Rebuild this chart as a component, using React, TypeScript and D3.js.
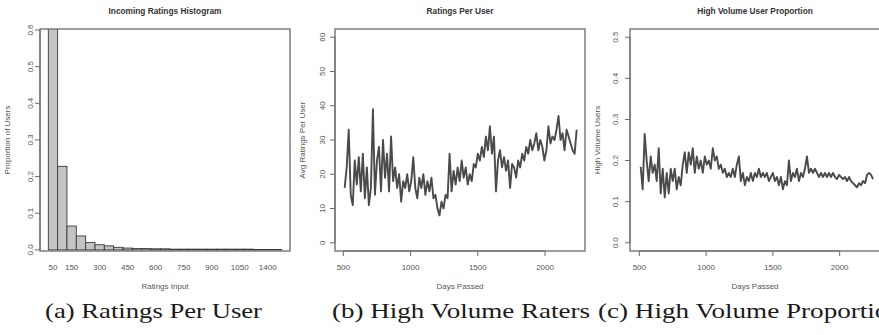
import React from "react";
import * as d3 from "d3";

// ---------- Data ----------
const histCategories = [
  "50", "100", "150", "200", "250", "300", "350", "400", "450", "500", "550", "600",
  "650", "700", "750", "800", "850", "900", "950", "1000", "1050", "1100", "1150", "1400", "1450",
];
const histValues = [
  0.62, 0.228, 0.065, 0.038, 0.02, 0.014, 0.011, 0.007, 0.005, 0.004, 0.004, 0.003,
  0.003, 0.002, 0.002, 0.002, 0.002, 0.002, 0.002, 0.002, 0.002, 0.002, 0.001, 0.001, 0.001,
];
const histShownLabels = ["50", "150", "300", "450", "600", "750", "900", "1050", "1400"];
const histYTicks = [0, 0.1, 0.2, 0.3, 0.4, 0.5, 0.6];

const ratingsDays = [
  510, 525, 540, 555, 570, 585, 600, 615, 630, 645, 660, 675, 690,
  705, 720, 735, 750, 765, 780, 795, 810, 825, 840, 855, 870, 885, 900,
  915, 930, 945, 960, 975, 990, 1005, 1020, 1035, 1050, 1065, 1080, 1095, 1110, 1125, 1140, 1155, 1170, 1185, 1200,
  1215, 1230, 1245, 1260, 1275, 1290, 1305, 1320, 1335, 1350, 1365, 1380, 1395, 1410, 1425, 1440,
  1455, 1470, 1485, 1500, 1515, 1530, 1545, 1560, 1575, 1590, 1605, 1620, 1635, 1650,
  1665, 1680, 1695, 1710, 1725, 1740, 1755, 1770, 1785, 1800,
  1815, 1830, 1845, 1860, 1875, 1890, 1905, 1920, 1935, 1950, 1965, 1980, 1995,
  2010, 2025, 2040, 2055, 2070, 2085, 2100, 2115, 2130, 2145, 2160, 2175, 2190, 2205, 2220, 2235,
];
const ratingsPerUser = [
  16, 22, 33, 14, 11, 24, 17, 25, 15, 26, 13, 22, 11,
  16, 39, 14, 24, 28, 15, 30, 19, 26, 15, 31, 18, 22, 16,
  20, 12, 18, 16, 20, 15, 18, 25, 16, 13, 19, 16, 20, 14, 18, 15, 19, 13, 14, 10,
  8, 12, 10, 14, 13, 26, 15, 21, 17, 22, 18, 24, 19, 22, 17, 20,
  18, 23, 22, 26, 24, 28, 25, 31, 27, 34, 26, 31, 15, 24,
  27, 22, 25, 21, 24, 16, 23, 22, 19, 24,
  22, 26, 24, 28, 26, 30, 27, 29, 32, 27, 30, 28, 24,
  27, 34, 29, 31, 30, 33, 37, 30, 32, 27, 33, 31, 29, 27, 26, 33,
];

const volumeDays = [
  510, 525, 540, 555, 570, 585, 600, 615, 630, 645, 660, 675, 690,
  705, 720, 735, 750, 765, 780, 795, 810, 825, 840, 855, 870, 885, 900,
  915, 930, 945, 960, 975, 990, 1005, 1020, 1035, 1050, 1065, 1080, 1095, 1110, 1125, 1140, 1155, 1170, 1185, 1200,
  1215, 1230, 1245, 1260, 1275, 1290, 1305, 1320, 1335, 1350, 1365, 1380, 1395, 1410, 1425, 1440,
  1455, 1470, 1485, 1500, 1515, 1530, 1545, 1560, 1575, 1590, 1605, 1620, 1635, 1650,
  1665, 1680, 1695, 1710, 1725, 1740, 1755, 1770, 1785, 1800,
  1815, 1830, 1845, 1860, 1875, 1890, 1905, 1920, 1935, 1950, 1965, 1980, 1995,
  2010, 2025, 2040, 2055, 2070, 2085, 2100, 2115, 2130, 2145, 2160, 2175, 2190, 2205, 2220, 2235, 2250,
];
const highVolumeShare = [
  0.185, 0.13, 0.265, 0.2, 0.15, 0.21, 0.17, 0.19, 0.15, 0.23, 0.12, 0.18, 0.11,
  0.17, 0.12, 0.18, 0.15, 0.18, 0.13, 0.16, 0.14, 0.19, 0.22, 0.17, 0.22, 0.19, 0.23,
  0.17, 0.21, 0.18, 0.2, 0.17, 0.21, 0.19, 0.2, 0.18, 0.23, 0.2, 0.21, 0.18, 0.19, 0.17, 0.18, 0.16, 0.17, 0.16, 0.18,
  0.16, 0.19, 0.21, 0.15, 0.17, 0.14, 0.16, 0.15, 0.17, 0.15, 0.17, 0.16, 0.18, 0.16, 0.17, 0.16,
  0.17, 0.15, 0.16, 0.17, 0.15, 0.16, 0.14, 0.16, 0.13, 0.15, 0.14, 0.2, 0.15, 0.17,
  0.16, 0.18, 0.15, 0.17, 0.16, 0.18, 0.21, 0.17, 0.18, 0.17,
  0.18, 0.17, 0.16, 0.17, 0.16, 0.17, 0.16, 0.17, 0.16, 0.17, 0.16, 0.155, 0.165,
  0.16, 0.155, 0.16, 0.15, 0.16, 0.15, 0.145, 0.14, 0.135, 0.145, 0.14, 0.15, 0.145, 0.165, 0.17, 0.165, 0.155,
];

const dayTicks = [500, 1000, 1500, 2000];
const ratingsYTicks = [0, 10, 20, 30, 40, 50, 60];
const shareYTicks = [0, 0.1, 0.2, 0.3, 0.4, 0.5];

const captions = ["(a) Ratings Per User", "(b) High Volume Raters", "(c) High Volume Proportion"];

// ---------- Layout ----------
const W = 879;
const H = 335;
const TOP = 29;
const BOTTOM = 251;
const BOX_W = 250;
const FONT = "'Liberation Sans', Arial, sans-serif";
const TXT = "#555";
const AX = "#6a6a6a";

type YAxisProps = { x: number; ticks: number[]; scale: (v: number) => number; fmt: (v: number) => string; labelOff: number };
function YAxis({ x, ticks, scale, fmt, labelOff }: YAxisProps) {
  const y0 = scale(ticks[0]);
  const y1 = scale(ticks[ticks.length - 1]);
  return (
    <g>
      <line x1={x} x2={x} y1={y0} y2={y1} stroke={AX} strokeWidth={1} />
      {ticks.map((t) => (
        <g key={t}>
          <line x1={x - 5} x2={x} y1={scale(t)} y2={scale(t)} stroke={AX} strokeWidth={1} />
          <text
            transform={`translate(${x - labelOff},${scale(t)}) rotate(-90)`}
            textAnchor="middle"
            dominantBaseline="central"
            fontFamily={FONT}
            fontSize={8}
            fill={TXT}
          >
            {fmt(t)}
          </text>
        </g>
      ))}
    </g>
  );
}

type XAxisProps = { y: number; ticks: number[]; scale: (v: number) => number };
function XAxis({ y, ticks, scale }: XAxisProps) {
  return (
    <g>
      <line x1={scale(ticks[0])} x2={scale(ticks[ticks.length - 1])} y1={y} y2={y} stroke={AX} strokeWidth={1} />
      {ticks.map((t) => (
        <g key={t}>
          <line x1={scale(t)} x2={scale(t)} y1={y} y2={y + 5} stroke={AX} strokeWidth={1} />
          <text x={scale(t)} y={267} textAnchor="middle" dominantBaseline="central" fontFamily={FONT} fontSize={8} fill={TXT}>
            {t}
          </text>
        </g>
      ))}
    </g>
  );
}

function Frame({ left, title, xTitle, yTitle }: { left: number; title: string; xTitle: string; yTitle: string }) {
  return (
    <g>
      <rect x={left} y={TOP} width={BOX_W} height={BOTTOM - TOP} fill="none" stroke={AX} strokeWidth={1.3} />
      <text x={left + BOX_W / 2} y={11} textAnchor="middle" dominantBaseline="central" fontFamily={FONT} fontWeight="bold" fontSize={8.3} fill="#333">
        {title}
      </text>
      <text x={left + BOX_W / 2} y={286} textAnchor="middle" dominantBaseline="central" fontFamily={FONT} fontSize={8} fill={TXT}>
        {xTitle}
      </text>
      <text
        transform={`translate(${left - 33},${(TOP + BOTTOM) / 2}) rotate(-90)`}
        textAnchor="middle"
        dominantBaseline="central"
        fontFamily={FONT}
        fontSize={8}
        fill={TXT}
      >
        {yTitle}
      </text>
    </g>
  );
}

function LineSeries({ id, left, days, values, xDomain, yDomain }: {
  id: string; left: number; days: number[]; values: number[]; xDomain: [number, number]; yDomain: [number, number];
}) {
  const x = d3.scaleLinear().domain(xDomain).range([left, left + BOX_W]);
  const y = d3.scaleLinear().domain(yDomain).range([BOTTOM, TOP]);
  const pts = days.map((d, i) => [d, values[i]] as [number, number]);
  const line = d3.line<[number, number]>().x((p) => x(p[0])).y((p) => y(p[1]));
  const path = line(pts) || "";
  return (
    <g>
      <clipPath id={id}>
        <rect x={left} y={TOP} width={BOX_W} height={BOTTOM - TOP} />
      </clipPath>
      <g clipPath={`url(#${id})`}>
        <path d={path} fill="none" stroke="#4a4a4a" strokeWidth={1.9} strokeLinejoin="round" />
      </g>
    </g>
  );
}

export default function App() {
  // Panel a
  const aLeft = 40;
  const xBand = d3.scaleBand().domain(histCategories).range([48.3, 281.7]).padding(0);
  const yA = d3.scaleLinear().domain([-0.003, 0.6027]).range([BOTTOM, TOP]);

  // Panel b
  const bLeft = 335;
  const xB = d3.scaleLinear().domain([438, 2297]).range([bLeft, bLeft + BOX_W]);
  const yBDomain: [number, number] = [-2.4, 62.4];
  const yB = d3.scaleLinear().domain(yBDomain).range([BOTTOM, TOP]);

  // Panel c
  const cLeft = 630;
  const xC = d3.scaleLinear().domain([430, 2302]).range([cLeft, cLeft + BOX_W]);
  const yCDomain: [number, number] = [-0.02, 0.52];
  const yC = d3.scaleLinear().domain(yCDomain).range([BOTTOM, TOP]);

  const captionX = [45, 332, 598];
  const captionLen = [217, 258, 304];

  return (
    <div style={{ position: "absolute", left: 0, top: 0 }}>
      <svg width={W} height={H} style={{ display: "block", background: "#fff" }}>
        {/* Panel a */}
        <clipPath id="clipA">
          <rect x={aLeft} y={TOP} width={BOX_W} height={BOTTOM - TOP} />
        </clipPath>
        <g clipPath="url(#clipA)">
          {histCategories.map((c, i) => (
            <rect
              key={c}
              x={xBand(c)}
              y={yA(histValues[i])}
              width={xBand.bandwidth()}
              height={yA(0) - yA(histValues[i])}
              fill="#c4c4c4"
              stroke="#3a3a3a"
              strokeWidth={0.9}
            />
          ))}
        </g>
        <Frame left={aLeft} title="Incoming Ratings Histogram" xTitle="Ratings Input" yTitle="Proportion of Users" />
        <YAxis x={aLeft} ticks={histYTicks} scale={yA} fmt={(v) => v.toFixed(1)} labelOff={10} />
        {histShownLabels.map((l) => (
          <text
            key={l}
            x={(xBand(l) || 0) + xBand.bandwidth() / 2}
            y={267}
            textAnchor="middle"
            dominantBaseline="central"
            fontFamily={FONT}
            fontSize={8}
            fill={TXT}
          >
            {l}
          </text>
        ))}

        {/* Panel b */}
        <LineSeries id="clipB" left={bLeft} days={ratingsDays} values={ratingsPerUser} xDomain={[438, 2297]} yDomain={yBDomain} />
        <Frame left={bLeft} title="Ratings Per User" xTitle="Days Passed" yTitle="Avg Ratings Per User" />
        <YAxis x={bLeft} ticks={ratingsYTicks} scale={yB} fmt={(v) => String(v)} labelOff={13} />
        <XAxis y={BOTTOM} ticks={dayTicks} scale={xB} />

        {/* Panel c */}
        <LineSeries id="clipC" left={cLeft} days={volumeDays} values={highVolumeShare} xDomain={[430, 2302]} yDomain={yCDomain} />
        <Frame left={cLeft} title="High Volume User Proportion" xTitle="Days Passed" yTitle="High Volume Users" />
        <YAxis x={cLeft} ticks={shareYTicks} scale={yC} fmt={(v) => v.toFixed(1)} labelOff={15} />
        <XAxis y={BOTTOM} ticks={dayTicks} scale={xC} />

        {/* Captions */}
        {captions.map((c, i) => (
          <text
            key={c}
            x={captionX[i]}
            y={318}
            textLength={captionLen[i]}
            lengthAdjust="spacingAndGlyphs"
            fontFamily="'Liberation Serif', 'Times New Roman', serif"
            fontSize={22}
            fill="#1a1a1a"
          >
            {c}
          </text>
        ))}
      </svg>
    </div>
  );
}
